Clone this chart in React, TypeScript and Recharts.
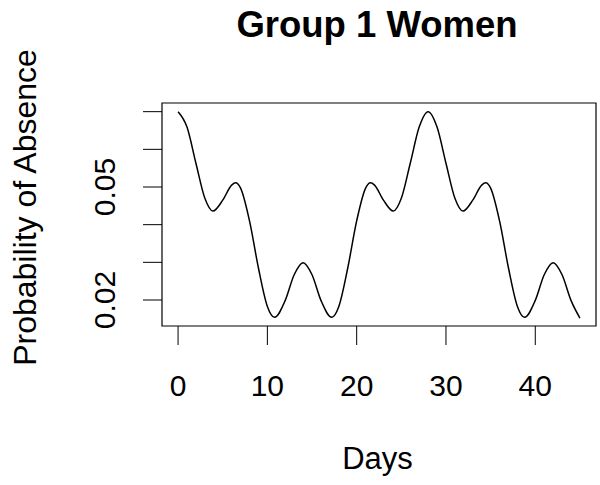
import React from 'react';
import { LineChart, Line, XAxis, YAxis, ReferenceArea } from 'recharts';

const days = [
  0, 1, 2, 3, 3.9, 5, 6, 6.45, 7, 8, 9, 10, 10.8, 12, 13, 14,
  15, 16, 17.2, 18, 19, 20, 21, 21.55, 22, 23, 24.1, 25, 26, 27, 28,
  29, 30, 31, 31.9, 33, 34, 34.45, 35, 36, 37, 38, 38.8, 40, 41, 42, 43, 44, 45,
];
const prob = [
  0.07, 0.0659, 0.0563, 0.047, 0.0436, 0.0465, 0.0505, 0.0511, 0.0497, 0.041, 0.0285, 0.0183, 0.0154, 0.0199, 0.0267, 0.0299,
  0.0267, 0.0199, 0.0154, 0.0183, 0.0285, 0.041, 0.0497, 0.0511, 0.0505, 0.0465, 0.0436, 0.047, 0.0563, 0.0659, 0.07,
  0.0659, 0.0563, 0.047, 0.0436, 0.0465, 0.0505, 0.0511, 0.0497, 0.041, 0.0285, 0.0183, 0.0154, 0.0199, 0.0267, 0.0299, 0.0267, 0.0199, 0.0152,
];
const xTicks = [0, 10, 20, 30, 40];
const yTicks = [0.02, 0.03, 0.04, 0.05, 0.06, 0.07];
const yLabeledTicks = [0.02, 0.05];
const xDomain = [-1.8, 46.8];
const yDomain = [0.0131, 0.0723];
const titleText = 'Group 1 Women';
const xLabelText = 'Days';
const yLabelText = 'Probability of Absence';

const data = days.map((d, i) => ({ day: d, p: prob[i] }));

const FONT = "'Liberation Sans', Arial, Helvetica, sans-serif";

const XTick = (props: any) => {
  const { x, payload } = props;
  return (
    <text x={x} y={396} textAnchor="middle" fontSize={30} fontFamily={FONT} fill="#000">
      {String(payload.value)}
    </text>
  );
};

const YTick = (props: any) => {
  const { y, payload } = props;
  if (!yLabeledTicks.includes(payload.value)) return <g />;
  const bx = 115;
  return (
    <text
      x={bx}
      y={y}
      transform={`rotate(-90 ${bx} ${y})`}
      textAnchor="middle"
      fontSize={30}
      fontFamily={FONT}
      fill="#000"
    >
      {String(payload.value)}
    </text>
  );
};

export default function App() {
  return (
    <div style={{ position: 'absolute', left: 0, top: 0, width: 600, height: 485, background: '#fff' }}>
      <LineChart
        width={600}
        height={485}
        data={data}
        margin={{ top: 103, right: 4, bottom: 59, left: 0 }}
      >
        <XAxis
          type="number"
          dataKey="day"
          domain={xDomain}
          ticks={xTicks}
          allowDataOverflow
          axisLine={false}
          tickLine={{ stroke: '#000', strokeWidth: 1 }}
          tickSize={19}
          height={100}
          tick={<XTick />}
          interval={0}
        />
        <YAxis
          type="number"
          domain={yDomain}
          ticks={yTicks}
          allowDataOverflow
          axisLine={false}
          tickLine={{ stroke: '#000', strokeWidth: 1 }}
          tickSize={19}
          width={162}
          tick={<YTick />}
          interval={0}
        />
        <ReferenceArea
          x1={xDomain[0]}
          x2={xDomain[1]}
          y1={yDomain[0]}
          y2={yDomain[1]}
          fill="none"
          fillOpacity={0}
          stroke="#000"
          strokeWidth={1.2}
          ifOverflow="visible"
        />
        <Line
          type="monotone"
          dataKey="p"
          stroke="#000"
          strokeWidth={1.5}
          dot={false}
          activeDot={false}
          isAnimationActive={false}
        />
      </LineChart>
      <svg
        width={600}
        height={485}
        style={{ position: 'absolute', left: 0, top: 0, pointerEvents: 'none' }}
      >
        <text x={377} y={37} textAnchor="middle" fontSize={36.5} fontWeight="bold" fontFamily={FONT} fill="#000">
          {titleText}
        </text>
        <text x={377.5} y={469} textAnchor="middle" fontSize={31} fontFamily={FONT} fill="#000">
          {xLabelText}
        </text>
        <text
          x={36}
          y={207.5}
          transform="rotate(-90 36 207.5)"
          textAnchor="middle"
          fontSize={32}
          fontFamily={FONT}
          fill="#000"
        >
          {yLabelText}
        </text>
      </svg>
    </div>
  );
}
